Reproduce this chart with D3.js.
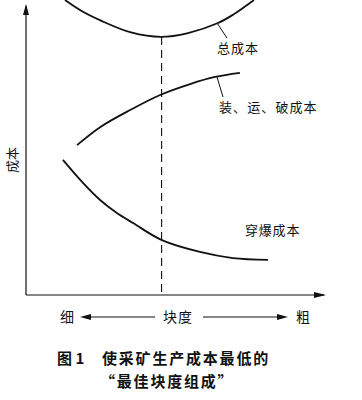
<!DOCTYPE html>
<html><head><meta charset="utf-8">
<script src="https://cdn.jsdelivr.net/npm/d3@7"></script>
<style>
html,body{margin:0;padding:0;background:#fff;}
svg{display:block;}
text{font-family:"Noto Sans CJK SC","Noto Sans",sans-serif;fill:#111;}
</style></head>
<body>
<svg id="chart" width="362" height="400"></svg>
<script>
// block size (0 = fine, 100 = coarse) vs relative cost
const totalCost = [[13,100],[19,96],[25,93],[35,89],[45,87.5],[54,88.8],[64,92.2],[69,95],[76,100]];
const loadHaulCrushCost = [[17,50.8],[24.7,56.9],[34.7,62.7],[44.7,67.8],[54.7,71.5],[63,73.9],[71.3,75.3]];
const drillBlastCost = [[12.3,45.8],[19,38],[24.7,32.2],[30.3,27.8],[35.7,24.4],[45.3,18.6],[58,14.6],[69,12.5],[80.7,11.9]];
const optimumSize = 45.2;
const curveLabels = ["总成本","装、运、破成本","穿爆成本"];
const yAxisLabel = "成本";
const xAxisLabels = ["细","块度","粗"];
const captionLines = ["图 1","使采矿生产成本最低的","“最佳块度组成”"];

const svg = d3.select("#chart");
const x = d3.scaleLinear().domain([0,100]).range([26,326]);
const y = d3.scaleLinear().domain([0,100]).range([295,0]);
const line = d3.line().x(d=>x(d[0])).y(d=>y(d[1])).curve(d3.curveCatmullRom.alpha(0.5));

// axes
const ink = "#111";
svg.append("line").attr("x1",x(0)).attr("y1",y(0)).attr("x2",x(0)).attr("y2",6).attr("stroke",ink).attr("stroke-width",1.2);
svg.append("path").attr("d",`M${x(0)},4 L${x(0)-3},15 L${x(0)+3},15 Z`).attr("fill",ink);
svg.append("line").attr("x1",x(0)).attr("y1",y(0)).attr("x2",x(100)-2).attr("y2",y(0)).attr("stroke",ink).attr("stroke-width",1.2);
svg.append("path").attr("d",`M${x(100)},${y(0)} L${x(100)-12},${y(0)-3} L${x(100)-12},${y(0)+3} Z`).attr("fill",ink);

// dashed optimum line
const minTotal = 87.5;
svg.append("line").attr("x1",x(optimumSize)).attr("x2",x(optimumSize))
  .attr("y1",y(minTotal)).attr("y2",y(0))
  .attr("stroke",ink).attr("stroke-width",1.1).attr("stroke-dasharray","8,5");

// curves
[totalCost, loadHaulCrushCost, drillBlastCost].forEach(d=>{
  svg.append("path").attr("d",line(d)).attr("fill","none").attr("stroke",ink).attr("stroke-width",1.8);
});

// leader lines and labels
svg.append("line").attr("x1",217).attr("y1",23).attr("x2",227).attr("y2",38).attr("stroke",ink).attr("stroke-width",1);
svg.append("text").attr("x",217).attr("y",53).attr("font-size",13).attr("letter-spacing",1).text(curveLabels[0]);
svg.append("line").attr("x1",217).attr("y1",77).attr("x2",223).attr("y2",97).attr("stroke",ink).attr("stroke-width",1);
svg.append("text").attr("x",219).attr("y",112).attr("font-size",13).attr("letter-spacing",1.1).text(curveLabels[1]);
svg.append("text").attr("x",245).attr("y",235).attr("font-size",13).attr("letter-spacing",0.8).text(curveLabels[2]);

// y label
svg.append("text").attr("transform","translate(17,160) rotate(-90)").attr("text-anchor","middle").attr("font-size",13).text(yAxisLabel);

// x labels with arrows
const by = 317;
svg.append("text").attr("x",67).attr("y",by+5).attr("text-anchor","middle").attr("font-size",14).text(xAxisLabels[0]);
svg.append("text").attr("x",178).attr("y",by+5).attr("text-anchor","middle").attr("font-size",14).attr("letter-spacing",1).text(xAxisLabels[1]);
svg.append("text").attr("x",303).attr("y",by+5).attr("text-anchor","middle").attr("font-size",14).text(xAxisLabels[2]);
svg.append("line").attr("x1",86).attr("y1",by).attr("x2",155).attr("y2",by).attr("stroke",ink).attr("stroke-width",1.1);
svg.append("path").attr("d",`M80,${by} L91,${by-3} L91,${by+3} Z`).attr("fill",ink);
svg.append("line").attr("x1",203).attr("y1",by).attr("x2",282).attr("y2",by).attr("stroke",ink).attr("stroke-width",1.1);
svg.append("path").attr("d",`M288,${by} L277,${by-3} L277,${by+3} Z`).attr("fill",ink);

// caption
svg.append("text").attr("x",57).attr("y",364).attr("font-size",15).attr("font-weight",700).text(captionLines[0]);
svg.append("text").attr("x",102).attr("y",364).attr("font-size",15).attr("font-weight",700).attr("letter-spacing",1.8).text(captionLines[1]);
svg.append("text").attr("x",100).attr("y",387).attr("font-size",15).attr("font-weight",700).attr("letter-spacing",1.8).text(captionLines[2]);
</script>
</body></html>
